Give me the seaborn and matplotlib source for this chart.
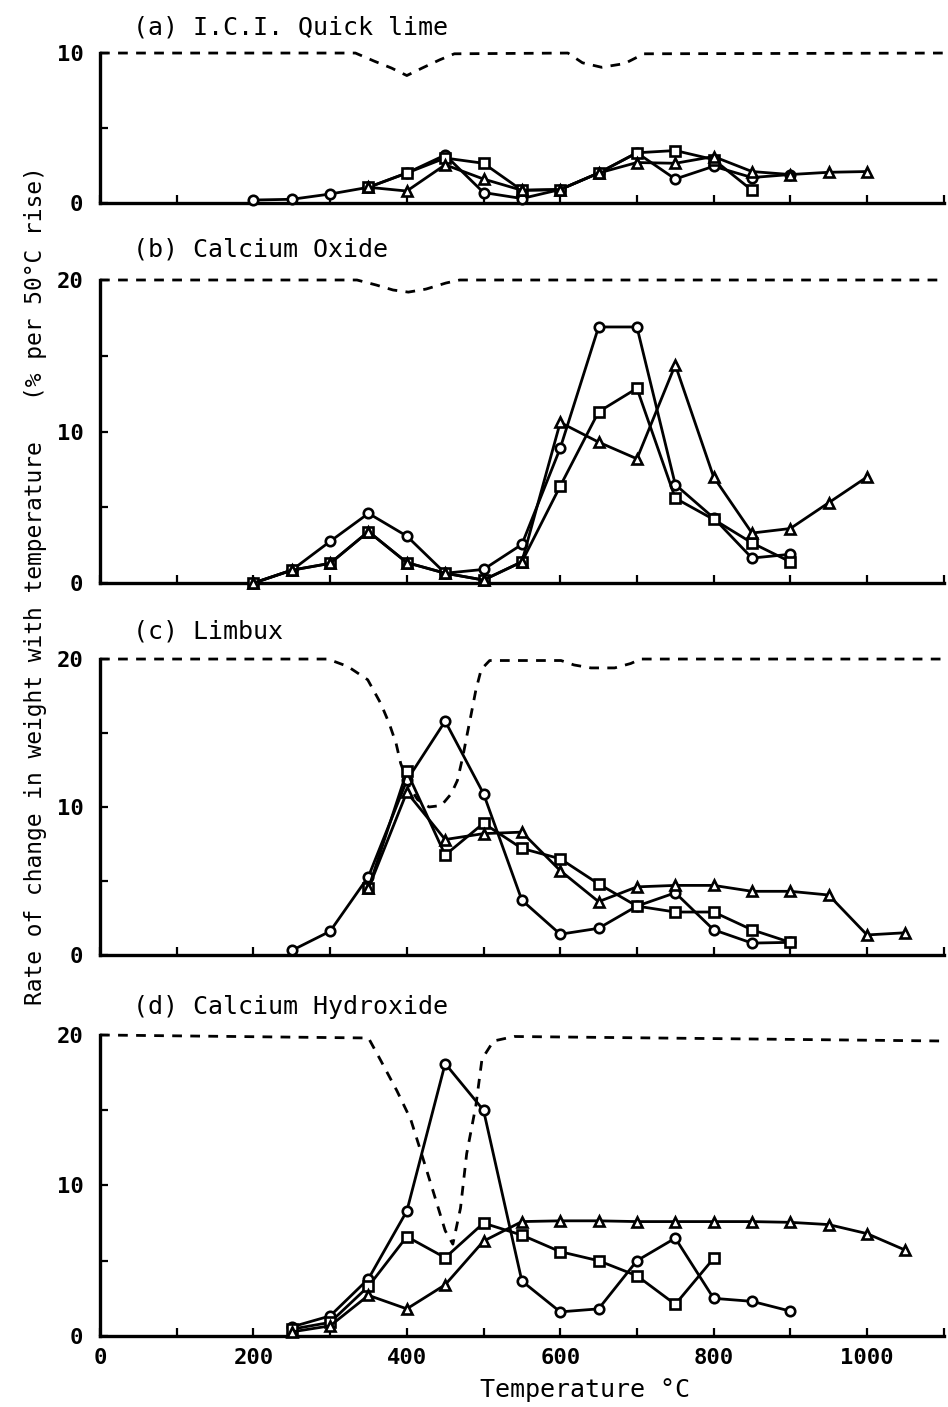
import matplotlib
matplotlib.use("Agg")
import matplotlib.pyplot as plt
import seaborn as sns

# ---------------- data ----------------
# (a) I.C.I. Quick lime
a_circle_t = [200, 250, 300, 350, 400, 450, 500, 550, 600, 650, 700, 750, 800, 850, 900]
a_circle_v = [0.2, 0.25, 0.6, 1.05, 2.0, 3.2, 0.7, 0.3, 0.9, 2.0, 3.35, 1.6, 2.45, 1.7, 1.9]
a_square_t = [350, 400, 450, 500, 550, 600, 650, 700, 750, 800, 850]
a_square_v = [1.05, 2.0, 3.0, 2.65, 0.85, 0.9, 2.0, 3.35, 3.5, 2.9, 0.85]
a_tri_t = [350, 400, 450, 500, 550, 600, 650, 700, 750, 800, 850, 900, 950, 1000]
a_tri_v = [1.05, 0.8, 2.55, 1.6, 0.85, 0.9, 2.0, 2.7, 2.65, 3.1, 2.1, 1.9, 2.05, 2.1]
a_dash_t = [0, 333, 358, 380, 400, 420, 443, 462, 610, 629, 654, 684, 709, 1100]
a_dash_v = [10, 10, 9.45, 9.0, 8.5, 9.0, 9.55, 9.95, 10, 9.35, 9.05, 9.3, 9.95, 10]

# (b) Calcium Oxide
b_circle_t = [200, 250, 300, 350, 400, 450, 500, 550, 600, 650, 700, 750, 800, 850, 900]
b_circle_v = [0, 0.85, 2.75, 4.6, 3.1, 0.65, 0.9, 2.55, 8.9, 16.9, 16.9, 6.5, 4.3, 1.65, 1.9]
b_square_t = [200, 250, 300, 350, 400, 450, 500, 550, 600, 650, 700, 750, 800, 850, 900]
b_square_v = [0, 0.85, 1.3, 3.4, 1.35, 0.65, 0.2, 1.4, 6.4, 11.3, 12.85, 5.6, 4.2, 2.65, 1.4]
b_tri_t = [200, 250, 300, 350, 400, 450, 500, 550, 600, 650, 700, 750, 800, 850, 900, 950, 1000]
b_tri_v = [0, 0.85, 1.3, 3.4, 1.35, 0.65, 0.2, 1.4, 10.6, 9.3, 8.2, 14.4, 7.0, 3.3, 3.6, 5.3, 7.0]
b_dash_t = [0, 335, 360, 382, 402, 425, 451, 469, 1100]
b_dash_v = [20, 20, 19.67, 19.34, 19.2, 19.4, 19.8, 20, 20]

# (c) Limbux
c_circle_t = [250, 300, 350, 400, 450, 500, 550, 600, 650, 700, 750, 800, 850, 900]
c_circle_v = [0.3, 1.6, 5.3, 11.8, 15.8, 10.9, 3.7, 1.4, 1.8, 3.3, 4.2, 1.7, 0.8, 0.85]
c_square_t = [350, 400, 450, 500, 550, 600, 650, 700, 750, 800, 850, 900]
c_square_v = [4.5, 12.4, 6.75, 8.9, 7.2, 6.5, 4.8, 3.3, 2.9, 2.9, 1.7, 0.85]
c_tri_t = [350, 400, 450, 500, 550, 600, 650, 700, 750, 800, 850, 900, 950, 1000, 1050]
c_tri_v = [4.5, 11.0, 7.8, 8.2, 8.3, 5.7, 3.6, 4.6, 4.7, 4.7, 4.3, 4.3, 4.05, 1.35, 1.5]
c_dash_t = [0, 297, 323, 349, 366, 377, 386, 392, 403, 414, 429, 445, 458, 466,
            473, 479, 484, 490, 497, 508, 601, 618, 640, 671, 692, 705, 1100]
c_dash_v = [20, 20, 19.5, 18.6, 17.0, 15.65, 14.3, 12.95, 11.4, 10.5, 10.0, 10.1, 10.9, 11.8,
            13.4, 15.0, 16.3, 17.9, 19.3, 19.9, 19.9, 19.6, 19.4, 19.4, 19.7, 20, 20]

# (d) Calcium Hydroxide
d_circle_t = [250, 300, 350, 400, 450, 500, 550, 600, 650, 700, 750, 800, 850, 900]
d_circle_v = [0.6, 1.33, 3.8, 8.3, 18.1, 15.0, 3.65, 1.6, 1.8, 5.0, 6.5, 2.5, 2.3, 1.65]
d_square_t = [250, 300, 350, 400, 450, 500, 550, 600, 650, 700, 750, 800]
d_square_v = [0.45, 0.9, 3.3, 6.6, 5.2, 7.5, 6.7, 5.6, 5.0, 4.0, 2.1, 5.15]
d_tri_t = [250, 300, 350, 400, 450, 500, 550, 600, 650, 700, 750, 800, 850, 900, 950, 1000, 1050]
d_tri_v = [0.27, 0.67, 2.7, 1.8, 3.4, 6.3, 7.6, 7.65, 7.65, 7.6, 7.6, 7.6, 7.6, 7.55, 7.4, 6.8, 5.7]
d_dash_t = [0, 350, 365, 387, 405, 418, 435, 450, 460, 470, 478, 490, 498, 513, 540, 1100]
d_dash_v = [20, 19.8, 18.4, 16.3, 14.4, 12.3, 9.5, 7.0, 6.1, 8.5, 12.1, 15.3, 18.4, 19.6, 19.9, 19.6]

titles = ["(a) I.C.I. Quick lime", "(b) Calcium Oxide", "(c) Limbux", "(d) Calcium Hydroxide"]

# ---------------- figure ----------------
sns.set_style("ticks")
plt.rcParams['font.family'] = ['DejaVu Sans Mono', 'DejaVu Sans']
plt.rcParams['text.color'] = 'black'
plt.rcParams['axes.edgecolor'] = 'black'
plt.rcParams['xtick.color'] = 'black'
plt.rcParams['ytick.color'] = 'black'

fig = plt.figure(figsize=(9.48, 14.07), dpi=100)

rects = [
    [0.1055, 0.8557, 0.890, 0.1066],
    [0.1055, 0.5856, 0.890, 0.2154],
    [0.1055, 0.3213, 0.890, 0.2103],
    [0.1055, 0.0505, 0.890, 0.2139],
]
title_y = [1 - 27 / 1407, 1 - 250 / 1407, 1 - 632 / 1407, 1 - 1007 / 1407]
ymaxes = [10, 20, 20, 20]

panels = [
    (a_circle_t, a_circle_v, a_square_t, a_square_v, a_tri_t, a_tri_v, a_dash_t, a_dash_v),
    (b_circle_t, b_circle_v, b_square_t, b_square_v, b_tri_t, b_tri_v, b_dash_t, b_dash_v),
    (c_circle_t, c_circle_v, c_square_t, c_square_v, c_tri_t, c_tri_v, c_dash_t, c_dash_v),
    (d_circle_t, d_circle_v, d_square_t, d_square_v, d_tri_t, d_tri_v, d_dash_t, d_dash_v),
]

for i, (rect, pdata) in enumerate(zip(rects, panels)):
    ax = fig.add_axes(rect)
    ct, cv, st, sv, tt, tv, dt, dv = pdata
    ymax = ymaxes[i]

    sns.lineplot(x=dt, y=dv, ax=ax, color='black', linewidth=2.0,
                 linestyle=(0, (3.5, 3)), errorbar=None, sort=False, clip_on=False)

    for t, v, m in [(ct, cv, 'o'), (st, sv, 's'), (tt, tv, '^')]:
        sns.lineplot(x=t, y=v, ax=ax, color='black', linewidth=2.0, marker=m,
                     markersize=6.8, markerfacecolor='white', markeredgecolor='black',
                     markeredgewidth=1.9, errorbar=None, sort=False, clip_on=False, zorder=3)

    ax.set_xlim(0, 1100)
    ax.set_ylim(0, ymax)
    sns.despine(ax=ax)
    ax.spines['left'].set_linewidth(2.4)
    ax.spines['bottom'].set_linewidth(2.4)
    ax.spines['left'].set_bounds(0, ymax)

    ax.set_xticks(range(0, 1101, 100))
    if i == 3:
        ax.set_xticklabels([str(x) if x % 200 == 0 and x <= 1000 else '' for x in range(0, 1101, 100)])
    else:
        ax.set_xticklabels([])
    yt = list(range(0, ymax + 1, 5))
    ax.set_yticks(yt)
    ax.set_yticklabels([str(y) if y % 10 == 0 else '' for y in yt])
    ax.tick_params(axis='both', direction='in', length=6, width=1.6, labelsize=16)
    ax.tick_params(axis='y', pad=12)
    ax.tick_params(axis='x', pad=9)
    for lab in ax.get_xticklabels() + ax.get_yticklabels():
        lab.set_fontweight('bold')
    ax.set_xlabel('')
    ax.set_ylabel('')
    ax.patch.set_alpha(0)

    fig.text(133 / 948, title_y[i], titles[i], fontsize=18, va='center', ha='left')

fig.text(0.037, 0.584, "Rate of change in weight with temperature   (% per 50°C rise)",
         rotation=90, fontsize=16.5, va='center', ha='center')
fig.text(0.617, 0.012, "Temperature °C", fontsize=18, va='center', ha='center')

fig.savefig("out.png", dpi=100)
